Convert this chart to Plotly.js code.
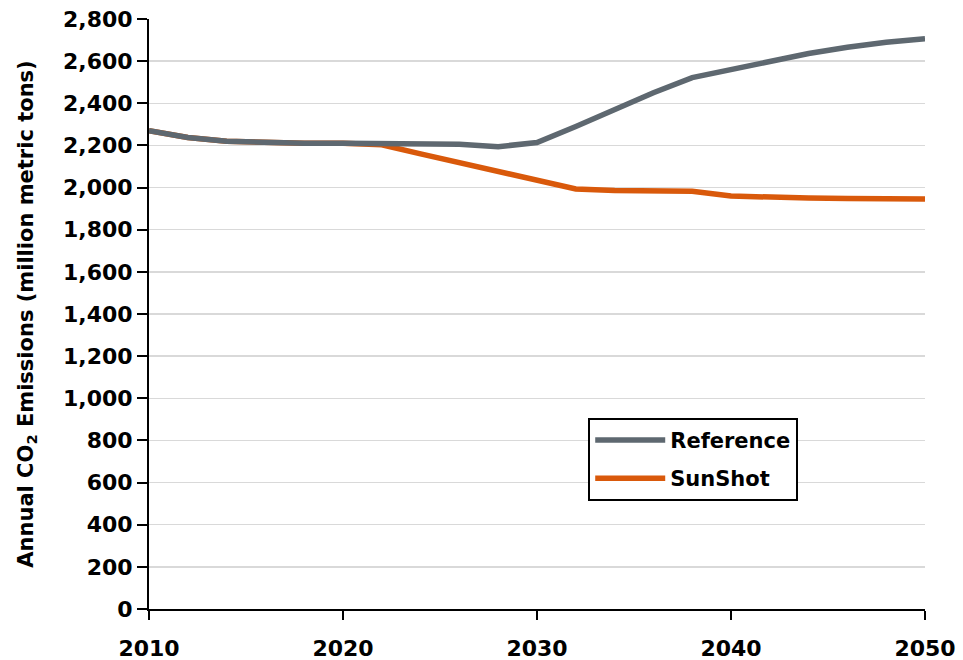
<!DOCTYPE html>
<html>
<head>
<meta charset="utf-8">
<script src="https://cdn.plot.ly/plotly-3.0.1.min.js"></script>
<style>html,body{margin:0;padding:0;background:#fff;}#chart{width:963px;height:660px;}</style>
</head>
<body>
<div id="chart"></div>
<script>
const years = [2010, 2012, 2014, 2016, 2018, 2020, 2022, 2024, 2026, 2028, 2030, 2032, 2034, 2036, 2038, 2040, 2042, 2044, 2046, 2048, 2050];
const referenceValues = [2270, 2238, 2220, 2212, 2210, 2210, 2210, 2210, 2206, 2194, 2214, 2290, 2370, 2450, 2522, 2562, 2602, 2636, 2666, 2690, 2706];
const sunshotValues = [2270, 2238, 2220, 2212, 2210, 2210, 2203, 2160, 2118, 2078, 2035, 1993, 1986, 1983, 1982, 1960, 1952, 1950, 1948, 1947, 1946];
const xTicks = [2010, 2020, 2030, 2040, 2050];

const fam = 'DejaVu Sans, sans-serif';

const traces = [
  {x: years, y: sunshotValues, name: 'SunShot', type: 'scatter', mode: 'lines',
   line: {color: '#d9590b', width: 5.5}, legendrank: 2, legendgroup: 'b'},
  {x: years, y: referenceValues, name: 'Reference', type: 'scatter', mode: 'lines',
   line: {color: '#5e6870', width: 5.5}, legendrank: 1, legendgroup: 'a'}
];

const layout = {
  width: 963, height: 660,
  margin: {l: 149, r: 38, t: 19, b: 51},
  paper_bgcolor: '#fff', plot_bgcolor: '#fff',
  font: {family: fam, color: '#000', size: 20},
  showlegend: true,
  legend: {x: 0.566, y: 0.324, xanchor: 'left', yanchor: 'top',
    bordercolor: '#000', borderwidth: 2, bgcolor: '#fff',
    font: {family: fam, size: 21, color: '#000', weight: 'bold'},
    tracegroupgap: 8, itemwidth: 70},
  xaxis: {range: [2010, 2050], tickvals: xTicks, ticktext: xTicks.map(String),
    showgrid: false, zeroline: false, showline: true, linecolor: '#000', linewidth: 2,
    ticks: 'outside', ticklen: 9, tickwidth: 2, tickcolor: '#000', ticklabelstandoff: 10,
    tickfont: {family: fam, size: 22, color: '#000', weight: 'bold'}},
  yaxis: {range: [0, 2800], dtick: 200, tickformat: ',',
    showgrid: true, gridcolor: '#d9d9d9', gridwidth: 1.5,
    zeroline: false, showline: true, linecolor: '#000', linewidth: 2,
    ticks: 'outside', ticklen: 10, tickwidth: 2, tickcolor: '#000',
    tickfont: {family: fam, size: 22, color: '#000', weight: 'bold'},
    title: {text: 'Annual CO<sub>2</sub> Emissions (million metric tons)', standoff: 24,
      font: {family: fam, size: 21, color: '#000', weight: 'bold'}}}
};

Plotly.newPlot('chart', traces, layout, {displayModeBar: false, staticPlot: true});
</script>
</body>
</html>
